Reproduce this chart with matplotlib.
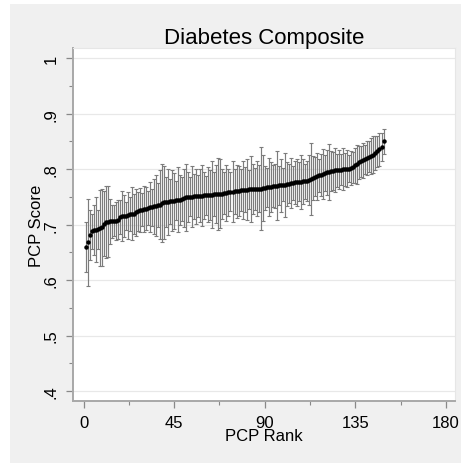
import numpy as np
import matplotlib
matplotlib.use("Agg")
import matplotlib.pyplot as plt
from matplotlib.patches import Rectangle
from matplotlib.ticker import MultipleLocator

plt.rcParams['font.family'] = ['Liberation Sans', 'DejaVu Sans']

# PCP score by rank
score = [
    .660, .668, .682, .688, .690, .691, .692, .694, .695, .702,
    .704, .705, .706, .706, .707, .707, .709, .714, .715, .716,
    .716, .717, .719, .720, .720, .722, .724, .726, .727, .728,
    .729, .730, .731, .731, .733, .734, .735, .736, .739, .740,
    .741, .741, .742, .743, .743, .744, .745, .745, .746, .748,
    .749, .750, .750, .750, .751, .751, .752, .752, .752, .753,
    .753, .754, .754, .754, .755, .755, .755, .756, .756, .757,
    .757, .758, .759, .759, .760, .760, .761, .762, .762, .763,
    .763, .764, .764, .764, .764, .765, .765, .765, .766, .766,
    .767, .768, .768, .769, .770, .770, .771, .771, .772, .772,
    .773, .774, .775, .775, .776, .776, .777, .777, .778, .778,
    .779, .780, .782, .784, .786, .787, .789, .790, .791, .793,
    .794, .795, .796, .797, .798, .798, .799, .799, .800, .800,
    .801, .801, .802, .803, .807, .809, .812, .814, .816, .818,
    .820, .822, .824, .826, .829, .832, .836, .840, .850,
]

# half width of the confidence interval
halfwidth = [
    .045, .078, .045, .032, .045, .058, .035, .068, .070, .058,
    .065, .064, .040, .030, .028, .034, .035, .030, .045, .038,
    .025, .042, .030, .048, .036, .043, .035, .040, .030, .042,
    .038, .030, .045, .033, .050, .055, .040, .062, .070, .065,
    .045, .060, .040, .055, .050, .035, .058, .045, .040, .052,
    .060, .045, .035, .055, .040, .050, .038, .048, .055, .042,
    .035, .050, .045, .060, .040, .052, .065, .062, .045, .038,
    .050, .042, .035, .055, .040, .048, .045, .038, .052, .040,
    .055, .035, .060, .045, .038, .050, .042, .075, .060, .040,
    .035, .052, .045, .038, .040, .062, .035, .048, .030, .058,
    .040, .035, .045, .030, .038, .042, .035, .048, .040, .032,
    .036, .045, .065, .040, .035, .042, .030, .038, .045, .032,
    .040, .050, .036, .034, .040, .030, .035, .028, .038, .030,
    .034, .025, .030, .028, .032, .035, .030, .028, .032, .026,
    .030, .028, .032, .033, .030, .028, .030, .025, .022,
]

rank = np.arange(1, len(score) + 1)

fig = plt.figure(figsize=(4.61, 4.64), dpi=100, facecolor='#f0f0f0')
# thin white strip top and left
fig.patches.append(Rectangle((0, 0), 10 / 461, 1, transform=fig.transFigure,
                             facecolor='white', edgecolor='none', zorder=-1))
fig.patches.append(Rectangle((0, 1 - 5 / 464), 1, 5 / 464, transform=fig.transFigure,
                             facecolor='white', edgecolor='none', zorder=-1))

ax = fig.add_axes([0.158, 0.134, 0.829, 0.760])
ax.set_facecolor('white')

ax.errorbar(rank, score, yerr=halfwidth, fmt='none', ecolor='#7c7c7c',
            elinewidth=0.85, capsize=1.2, capthick=0.8, zorder=2)
ax.plot(rank, score, 'o', color='black', markersize=2.2, zorder=3)

ax.set_xlim(-5.3, 184.5)
ax.set_ylim(0.3825, 1.018)

ax.set_xticks([0, 45, 90, 135, 180])
ax.xaxis.set_minor_locator(MultipleLocator(22.5))
ax.set_yticks([.4, .5, .6, .7, .8, .9, 1])
ax.set_yticklabels(['.4', '.5', '.6', '.7', '.8', '.9', '1'], rotation=90, va='center')
ax.yaxis.set_minor_locator(MultipleLocator(0.05))

ax.tick_params(which='both', direction='out', color='#888888')
ax.tick_params(which='major', length=5, width=0.9, labelsize=12, pad=5)
ax.tick_params(which='minor', length=3, width=0.8)
ax.tick_params(axis='y', which='major', pad=5)

ax.grid(axis='y', which='major', color='#e8e8e8', linewidth=0.9, zorder=0)
ax.set_axisbelow(True)

for side in ['left', 'bottom']:
    ax.spines[side].set_color('#a8a8a8')
    ax.spines[side].set_linewidth(1.4)
for side in ['top', 'right']:
    ax.spines[side].set_color('#e6e6e6')
    ax.spines[side].set_linewidth(0.8)

ax.set_title('Diabetes Composite', fontsize=16, pad=4)
ax.set_xlabel('PCP Rank', fontsize=12, labelpad=-1)
ax.set_ylabel('PCP Score', fontsize=12, labelpad=0)

fig.savefig('out.png', dpi=100, facecolor=fig.get_facecolor())
